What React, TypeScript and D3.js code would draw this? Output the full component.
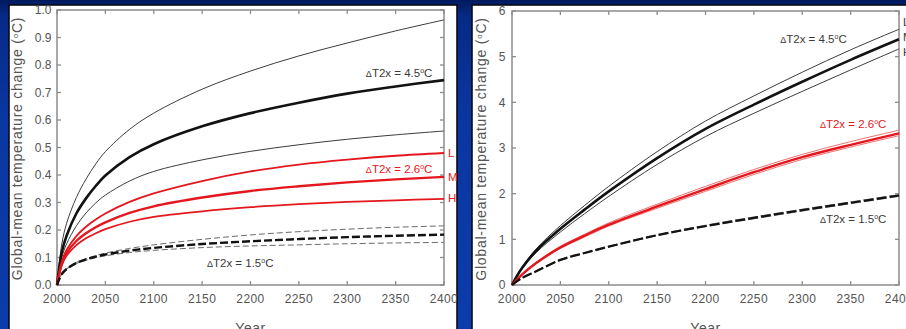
import React from 'react';
import * as d3 from 'd3';

const WIDTH = 906;
const HEIGHT = 329;

// ---- Left panel: warming response (°C), ΔT2x = 4.5 / 2.6 / 1.5 with L, M, H cases ----
const yearsLeft = [2000, 2005, 2010, 2020, 2030, 2040, 2050, 2075, 2100, 2150, 2200, 2250, 2300, 2350, 2400];
const left45L = [0, 0.15, 0.225, 0.318, 0.385, 0.44, 0.485, 0.566, 0.625, 0.712, 0.778, 0.833, 0.88, 0.924, 0.964];
const left45M = [0, 0.12, 0.18, 0.26, 0.315, 0.36, 0.398, 0.465, 0.512, 0.577, 0.625, 0.663, 0.696, 0.722, 0.745];
const left45H = [0, 0.10, 0.15, 0.215, 0.262, 0.298, 0.327, 0.378, 0.413, 0.455, 0.486, 0.51, 0.53, 0.546, 0.56];
const left26L = [0, 0.085, 0.128, 0.178, 0.212, 0.238, 0.26, 0.302, 0.333, 0.378, 0.413, 0.438, 0.456, 0.47, 0.48];
const left26M = [0, 0.078, 0.117, 0.16, 0.188, 0.21, 0.228, 0.262, 0.286, 0.318, 0.342, 0.359, 0.373, 0.384, 0.393];
const left26H = [0, 0.072, 0.107, 0.145, 0.17, 0.188, 0.203, 0.23, 0.248, 0.268, 0.283, 0.294, 0.302, 0.308, 0.313];
const left15L = [0, 0.04, 0.059, 0.082, 0.096, 0.107, 0.116, 0.133, 0.146, 0.166, 0.182, 0.194, 0.203, 0.21, 0.215];
const left15M = [0, 0.04, 0.058, 0.08, 0.093, 0.103, 0.111, 0.125, 0.135, 0.149, 0.159, 0.167, 0.174, 0.179, 0.183];
const left15H = [0, 0.04, 0.058, 0.078, 0.09, 0.099, 0.106, 0.118, 0.126, 0.136, 0.142, 0.146, 0.15, 0.153, 0.155];
const leftYTicks = [0, 0.1, 0.2, 0.3, 0.4, 0.5, 0.6, 0.7, 0.8, 0.9, 1.0];

// ---- Right panel ----
const yearsRight = [2000, 2010, 2025, 2050, 2075, 2100, 2150, 2200, 2250, 2300, 2350, 2400];
const right45L = [0, 0.38, 0.79, 1.30, 1.74, 2.16, 2.92, 3.59, 4.14, 4.66, 5.15, 5.60];
const right45M = [0, 0.36, 0.75, 1.23, 1.65, 2.05, 2.78, 3.42, 3.95, 4.45, 4.93, 5.38];
const right45H = [0, 0.34, 0.71, 1.16, 1.56, 1.94, 2.64, 3.25, 3.76, 4.24, 4.71, 5.17];
const right26L = [0, 0.23, 0.50, 0.85, 1.11, 1.36, 1.77, 2.16, 2.53, 2.86, 3.14, 3.39];
const right26M = [0, 0.22, 0.48, 0.82, 1.08, 1.32, 1.72, 2.10, 2.47, 2.80, 3.07, 3.32];
const right26H = [0, 0.21, 0.47, 0.80, 1.05, 1.29, 1.68, 2.05, 2.42, 2.75, 3.02, 3.27];
const right15L = [0, 0.16, 0.31, 0.56, 0.71, 0.85, 1.10, 1.31, 1.49, 1.66, 1.82, 1.98];
const right15M = [0, 0.15, 0.30, 0.55, 0.70, 0.84, 1.09, 1.29, 1.47, 1.64, 1.80, 1.96];
const right15H = [0, 0.14, 0.29, 0.54, 0.69, 0.83, 1.08, 1.28, 1.45, 1.62, 1.78, 1.94];
const rightYTicks = [0, 1, 2, 3, 4, 5, 6];

const xTickYears = [2000, 2050, 2100, 2150, 2200, 2250, 2300, 2350, 2400];

const FONT = '"Liberation Sans", Arial, sans-serif';
const TEXT_GRAY = '#545454';
const NOTE_GRAY = '#3a3a3a';
const RED = '#e3171d';

type Series = { values: number[]; color: string; width: number; dash?: string };
type Note = { text: string; year: number; value: number; color: string; anchor: 'start' | 'end' };
type EdgeNote = { text: string; value: number; dy: number; color: string };

type PanelProps = {
  id: string;
  boxX: number;
  boxW: number;
  left: number;
  right: number;
  top: number;
  bottom: number;
  yMax: number;
  yTicks: number[];
  yFmt: (v: number) => string;
  yLabelGap: number;
  titleX: number;
  years: number[];
  series: Series[];
  notes: Note[];
  edgeNotes: EdgeNote[];
};

function Panel(p: PanelProps) {
  const x = d3.scaleLinear().domain([2000, 2400]).range([p.left, p.right]);
  const y = d3.scaleLinear().domain([0, p.yMax]).range([p.bottom, p.top]);
  const line = d3
    .line<number>()
    .x((_, i) => x(p.years[i]))
    .y((d) => y(d))
    .curve(d3.curveCatmullRom.alpha(0.5));
  const clipId = `clip-${p.id}`;
  const boxY = 5;
  const boxH = 340;
  const tick = 4;
  const frame = '#8c8c8c';
  return (
    <g>
      <defs>
        <clipPath id={clipId}>
          <rect x={p.boxX} y={boxY} width={p.boxW} height={boxH} />
        </clipPath>
      </defs>
      <rect x={p.boxX} y={boxY} width={p.boxW} height={boxH} fill="#ffffff" stroke="#0a0a14" strokeWidth={1.6} />
      <g clipPath={`url(#${clipId})`}>
        {/* frame */}
        <rect x={p.left} y={p.top} width={p.right - p.left} height={p.bottom - p.top} fill="none" stroke={frame} strokeWidth={1.5} />
        {/* inward ticks on all four sides */}
        {xTickYears.map((yr) => (
          <g key={`xt${yr}`} stroke={frame} strokeWidth={1.3}>
            <line x1={x(yr)} x2={x(yr)} y1={p.bottom} y2={p.bottom - tick} />
            <line x1={x(yr)} x2={x(yr)} y1={p.top} y2={p.top + tick} />
          </g>
        ))}
        {p.yTicks.map((v) => (
          <g key={`yt${v}`} stroke={frame} strokeWidth={1.3}>
            <line x1={p.left} x2={p.left + tick} y1={y(v)} y2={y(v)} />
            <line x1={p.right} x2={p.right - tick} y1={y(v)} y2={y(v)} />
          </g>
        ))}
        {/* tick labels */}
        {xTickYears.map((yr) => (
          <text
            key={`xl${yr}`}
            x={x(yr)}
            y={p.bottom + 18}
            textAnchor="middle"
            fontFamily={FONT}
            fontSize={12}
            letterSpacing={0.4}
            fill={TEXT_GRAY}
          >
            {yr}
          </text>
        ))}
        {p.yTicks.map((v) => (
          <text
            key={`yl${v}`}
            x={p.left - p.yLabelGap}
            y={y(v)}
            dy="0.35em"
            textAnchor="end"
            fontFamily={FONT}
            fontSize={12}
            fill={TEXT_GRAY}
          >
            {p.yFmt(v)}
          </text>
        ))}
        {/* axis titles */}
        <text x={(p.left + p.right) / 2} y={333} textAnchor="middle" fontFamily={FONT} fontSize={14} letterSpacing={0.5} fill={TEXT_GRAY}>
          Year
        </text>
        <text
          transform={`translate(${p.titleX},${(p.top + p.bottom) / 2 + 1}) rotate(-90)`}
          textAnchor="middle"
          dy="0.35em"
          fontFamily={FONT}
          fontSize={14}
          letterSpacing={0.75}
          fill={TEXT_GRAY}
        >
          Global-mean temperature change (<tspan dy="-4" fontSize={8}>o</tspan>
          <tspan dy="4">C)</tspan>
        </text>
        {/* curves */}
        {p.series.map((s, i) => (
          <path
            key={`s${i}`}
            d={line(s.values) ?? ''}
            fill="none"
            stroke={s.color}
            strokeWidth={s.width}
            strokeDasharray={s.dash}
            strokeLinecap="butt"
            strokeLinejoin="round"
          />
        ))}
        {/* annotations */}
        {p.notes.map((n, i) => (
          <text key={`n${i}`} x={x(n.year)} y={y(n.value)} textAnchor={n.anchor} fontFamily={FONT} fontSize={11.5} fill={n.color}>
            <tspan fontSize={9}>Δ</tspan>T2x = {n.text}
            <tspan dy="-4" fontSize={7}>o</tspan>
            <tspan dy="4">C</tspan>
          </text>
        ))}
        {p.edgeNotes.map((n, i) => (
          <text key={`e${i}`} x={p.right + 4} y={y(n.value) + n.dy} dy="0.35em" fontFamily={FONT} fontSize={11.5} fill={n.color}>
            {n.text}
          </text>
        ))}
      </g>
    </g>
  );
}

export default function App() {
  const thin = '#3c3c3c';
  const thick = '#121212';
  const leftSeries: Series[] = [
    { values: left45L, color: thin, width: 1 },
    { values: left45H, color: thin, width: 1 },
    { values: left45M, color: thick, width: 2.6 },
    { values: left26L, color: RED, width: 1.8 },
    { values: left26H, color: RED, width: 1.8 },
    { values: left26M, color: RED, width: 2.4 },
    { values: left15L, color: '#6a6a6a', width: 1, dash: '6,3' },
    { values: left15H, color: '#6a6a6a', width: 1, dash: '6,3' },
    { values: left15M, color: thick, width: 2.4, dash: '8,3' },
  ];
  const rightSeries: Series[] = [
    { values: right45L, color: thin, width: 1 },
    { values: right45H, color: thin, width: 1 },
    { values: right45M, color: thick, width: 2.6 },
    { values: right26L, color: '#f07070', width: 1 },
    { values: right26H, color: '#f07070', width: 1 },
    { values: right26M, color: RED, width: 2.4 },
    { values: right15L, color: '#5a5a5a', width: 0.8, dash: '10,3' },
    { values: right15H, color: '#5a5a5a', width: 0.8, dash: '10,3' },
    { values: right15M, color: thick, width: 2.2, dash: '10,3' },
  ];
  return (
    <div style={{ position: 'absolute', left: 0, top: 0, width: WIDTH, height: HEIGHT }}>
      <svg width={WIDTH} height={HEIGHT} viewBox={`0 0 ${WIDTH} ${HEIGHT}`} style={{ display: 'block' }}>
        <defs>
          <linearGradient id="bg" x1="0" y1="0" x2="0" y2="1">
            <stop offset="0%" stopColor="#011a5e" />
            <stop offset="5%" stopColor="#062a86" />
            <stop offset="35%" stopColor="#0a36a0" />
            <stop offset="100%" stopColor="#0c3cab" />
          </linearGradient>
        </defs>
        <rect x={0} y={0} width={WIDTH} height={HEIGHT} fill="url(#bg)" />
        <Panel
          id="left"
          boxX={9}
          boxW={448}
          left={57}
          right={444}
          top={10}
          bottom={285}
          yMax={1}
          yTicks={leftYTicks}
          yFmt={d3.format('.1f')}
          yLabelGap={5.5}
          titleX={17}
          years={yearsLeft}
          series={leftSeries}
          notes={[
            { text: '4.5', year: 2388, value: 0.757, color: NOTE_GRAY, anchor: 'end' },
            { text: '2.6', year: 2388, value: 0.407, color: RED, anchor: 'end' },
            { text: '1.5', year: 2155, value: 0.065, color: NOTE_GRAY, anchor: 'start' },
          ]}
          edgeNotes={[
            { text: 'L', value: left26L[left26L.length - 1], dy: 0, color: RED },
            { text: 'M', value: left26M[left26M.length - 1], dy: 0, color: RED },
            { text: 'H', value: left26H[left26H.length - 1], dy: -1, color: RED },
          ]}
        />
        <Panel
          id="right"
          boxX={472}
          boxW={450}
          left={512}
          right={899}
          top={11}
          bottom={285}
          yMax={6}
          yTicks={rightYTicks}
          yFmt={d3.format('d')}
          yLabelGap={6.5}
          titleX={481}
          years={yearsRight}
          series={rightSeries}
          notes={[
            { text: '4.5', year: 2346, value: 5.3, color: NOTE_GRAY, anchor: 'end' },
            { text: '2.6', year: 2387, value: 3.44, color: RED, anchor: 'end' },
            { text: '1.5', year: 2387, value: 1.36, color: NOTE_GRAY, anchor: 'end' },
          ]}
          edgeNotes={[
            { text: 'L', value: right45L[right45L.length - 1], dy: -7, color: NOTE_GRAY },
            { text: 'M', value: right45M[right45M.length - 1], dy: -2, color: NOTE_GRAY },
            { text: 'H', value: right45H[right45H.length - 1], dy: 3, color: NOTE_GRAY },
          ]}
        />
      </svg>
    </div>
  );
}
